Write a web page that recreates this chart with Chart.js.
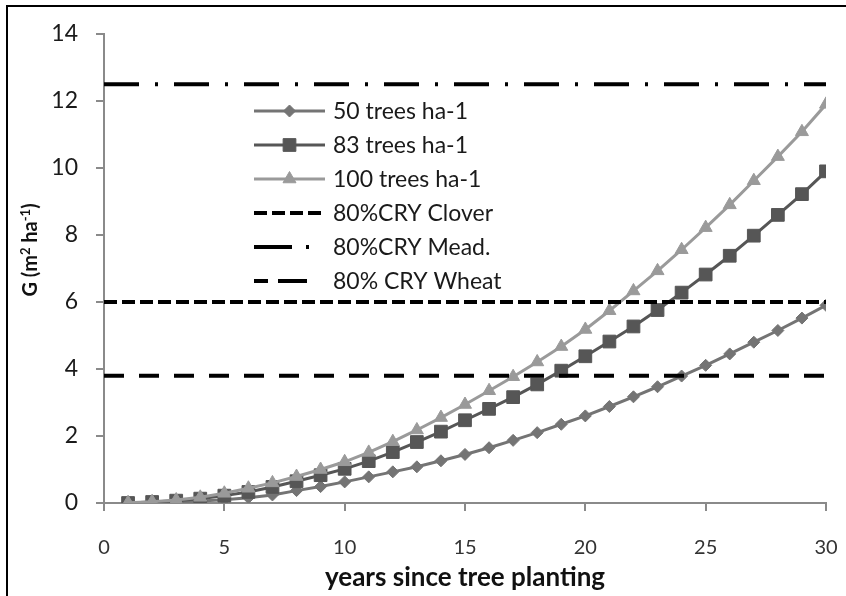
<!DOCTYPE html>
<html><head><meta charset="utf-8">
<script src="https://cdn.jsdelivr.net/npm/chart.js@4/dist/chart.umd.min.js"></script>
<style>html,body{margin:0;padding:0;background:#fff}#wrap{width:846px;height:596px;position:relative}</style>
</head><body><div id="wrap"><canvas id="c" width="846" height="596"></canvas></div>
<script>
const years = [1,2,3,4,5,6,7,8,9,10,11,12,13,14,15,16,17,18,19,20,21,22,23,24,25,26,27,28,29,30];
const trees50 = [0.00,0.01,0.03,0.06,0.10,0.16,0.24,0.37,0.49,0.63,0.78,0.93,1.08,1.26,1.45,1.65,1.87,2.10,2.35,2.60,2.88,3.17,3.47,3.79,4.11,4.45,4.80,5.15,5.52,5.90];
const trees83 = [0.00,0.03,0.07,0.13,0.22,0.33,0.48,0.65,0.83,1.02,1.25,1.52,1.82,2.13,2.47,2.81,3.16,3.54,3.95,4.38,4.82,5.27,5.76,6.28,6.82,7.38,7.98,8.60,9.22,9.90];
const trees100 = [0.01,0.04,0.09,0.17,0.29,0.44,0.60,0.79,1.00,1.23,1.51,1.83,2.18,2.55,2.94,3.35,3.77,4.21,4.67,5.18,5.74,6.33,6.93,7.56,8.22,8.90,9.62,10.34,11.08,11.90];
const refYears = [0, 30];
const clover80 = [6.0, 6.0];
const mead80 = [12.5, 12.5];
const wheat80 = [3.8, 3.8];
const seriesLabels = ['50 trees ha-1','83 trees ha-1','100 trees ha-1','80%CRY Clover','80%CRY Mead.','80% CRY Wheat'];
const xTicks = [0,5,10,15,20,25,30];
const yTicks = [0,2,4,6,8,10,12,14];
const xTitle = 'years since tree planting';
// y title parts: [text, isSuperscript]
const yTitleParts = [['G (m', false], ['2', true], [' ha', false], ['-1', true], [')', false]];

const pts = (xs, ys) => xs.map((x, i) => ({x: x, y: ys[i]}));
const FONT = 'Lato, "Open Sans", sans-serif';

const frame = {
  id: 'frame',
  beforeDraw(chart) {
    const ctx = chart.ctx;
    ctx.save();
    ctx.fillStyle = '#fff';
    ctx.fillRect(0, 0, chart.width, chart.height);
    ctx.strokeStyle = '#000';
    ctx.lineWidth = 2;
    ctx.beginPath();
    ctx.moveTo(7, chart.height);
    ctx.lineTo(7, 6);
    ctx.lineTo(chart.width, 6);
    ctx.stroke();
    ctx.restore();
  }
};

const yTitlePlugin = {
  id: 'yTitle',
  afterDraw(chart) {
    const ctx = chart.ctx;
    const size = 20, supSize = 13;
    const fMain = 'bold ' + size + 'px ' + FONT;
    const fSup = 'bold ' + supSize + 'px ' + FONT;
    ctx.save();
    let total = 0;
    yTitleParts.forEach(([t, sup]) => { ctx.font = sup ? fSup : fMain; total += ctx.measureText(t).width; });
    ctx.translate(37, 250);
    ctx.rotate(-Math.PI / 2);
    ctx.fillStyle = '#111';
    ctx.textAlign = 'left';
    ctx.textBaseline = 'alphabetic';
    let x = -total / 2;
    yTitleParts.forEach(([t, sup]) => {
      ctx.font = sup ? fSup : fMain;
      ctx.fillText(t, x, sup ? -7 : 0);
      x += ctx.measureText(t).width;
    });
    ctx.restore();
  }
};

const customLegend = {
  id: 'customLegend',
  afterDraw(chart) {
    const ctx = chart.ctx;
    const x0 = 254, x1 = 325, tx = 333, y0 = 111, dy = 34;
    chart.data.datasets.forEach((ds, i) => {
      const y = y0 + i * dy;
      ctx.save();
      ctx.strokeStyle = ds.borderColor;
      ctx.lineWidth = ds.borderWidth;
      ctx.setLineDash(ds.legendDash || []);
      ctx.beginPath();
      ctx.moveTo(x0, y);
      ctx.lineTo(x1, y);
      ctx.stroke();
      ctx.setLineDash([]);
      if (ds.pointRadius > 0 && Chart.helpers && Chart.helpers.drawPoint) {
        ctx.fillStyle = ds.pointBackgroundColor;
        ctx.strokeStyle = ds.pointBorderColor;
        ctx.lineWidth = 1;
        Chart.helpers.drawPoint(ctx, {pointStyle: ds.pointStyle, radius: ds.pointRadius, borderWidth: 1, rotation: 0}, (x0 + x1) / 2, y);
      }
      ctx.fillStyle = '#1a1a1a';
      ctx.font = '23px ' + FONT;
      ctx.textBaseline = 'middle';
      ctx.textAlign = 'left';
      ctx.fillText(ds.label, tx, y + 1);
      ctx.restore();
    });
  }
};

const curve = (label, data, color, style, radius, order) => ({
  label, data: pts(years, data), borderColor: color, backgroundColor: color,
  pointBackgroundColor: color, pointBorderColor: color, borderWidth: 3,
  pointStyle: style, pointRadius: radius, pointBorderWidth: 1, order, tension: 0
});
const hline = (label, data, dash, legendDash) => ({
  label, data: pts(refYears, data), borderColor: '#000', backgroundColor: '#000',
  borderWidth: 4, borderDash: dash, legendDash, pointRadius: 0, order: 0,
  borderCapStyle: 'butt'
});

new Chart(document.getElementById('c'), {
  type: 'line',
  data: {
    datasets: [
      curve(seriesLabels[0], trees50, '#747474', 'rectRot', 6, 3),
      curve(seriesLabels[1], trees83, '#565656', 'rect', 9, 2),
      curve(seriesLabels[2], trees100, '#9a9a9a', 'triangle', 7.5, 1),
      hline(seriesLabels[3], clover80, [13, 5], [13, 5]),
      hline(seriesLabels[4], mead80, [35, 16, 3, 16], [38, 14, 3, 30]),
      hline(seriesLabels[5], wheat80, [20, 15], [14, 10, 29, 30])
    ]
  },
  options: {
    responsive: false,
    animation: false,
    devicePixelRatio: 1,
    layout: {padding: {left: 18, top: 34, right: 20, bottom: 3}},
    plugins: {legend: {display: false}, tooltip: {enabled: false}},
    scales: {
      x: {
        type: 'linear', min: 0, max: 30,
        afterBuildTicks: (s) => { s.ticks = xTicks.map(v => ({value: v})); },
        afterFit: (s) => { s.height = 596 - 503 - 3; s.paddingRight = 0; s.paddingLeft = 0; },
        grid: {drawOnChartArea: false, drawTicks: true, tickLength: 8, color: '#8a8a8a', lineWidth: 2},
        border: {color: '#8a8a8a', width: 2},
        ticks: {color: '#333', font: {family: FONT, size: 20}, padding: 25, maxRotation: 0},
        title: {display: true, text: xTitle, color: '#111', font: {family: FONT, size: 26, weight: 'bold'}, padding: {top: 0, bottom: 0}}
      },
      y: {
        type: 'linear', min: 0, max: 14,
        afterBuildTicks: (s) => { s.ticks = yTicks.map(v => ({value: v})); },
        afterFit: (s) => { s.width = 104 - 18; s.paddingTop = 0; s.paddingBottom = 0; },
        grid: {drawOnChartArea: false, drawTicks: true, tickLength: 8, color: '#8a8a8a', lineWidth: 2},
        border: {color: '#8a8a8a', width: 2},
        ticks: {color: '#1a1a1a', font: {family: FONT, size: 23}, padding: 18},
        title: {display: false}
      }
    }
  },
  plugins: [frame, customLegend, yTitlePlugin]
});
</script></body></html>
